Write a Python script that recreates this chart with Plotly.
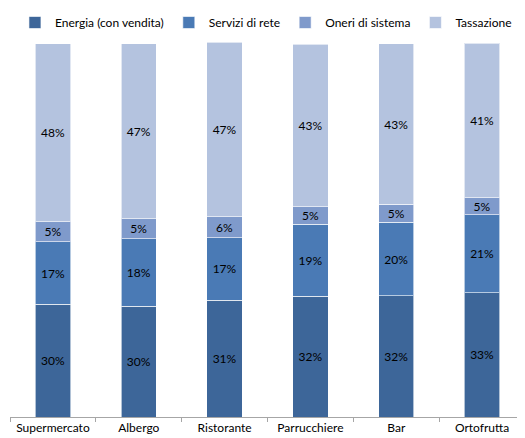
import plotly.graph_objects as go

categories = ["Supermercato", "Albergo", "Ristorante", "Parrucchiere", "Bar", "Ortofrutta"]
energia = [30.1, 29.6, 31.2, 32.3, 32.4, 33.3]
servizi = [16.8, 18.1, 16.8, 19.2, 19.7, 20.8]
oneri = [5.3, 5.3, 5.6, 4.8, 4.8, 4.6]
tassazione = [47.7, 46.9, 46.7, 43.4, 42.9, 41.3]

series = [
    ("Energia (con vendita)", energia, "#3D6699"),
    ("Servizi di rete", servizi, "#4A7AB5"),
    ("Oneri di sistema", oneri, "#7F9ACB"),
    ("Tassazione", tassazione, "#B4C3DF"),
]

FONT = "Lato"

fig = go.Figure()
for name, vals, color in series:
    fig.add_trace(go.Bar(
        x=categories, y=vals, name=name,
        marker=dict(color=color, line=dict(color="rgba(255,255,255,0.6)", width=1)),
        texttemplate="%{y:.0f}%", textposition="inside", insidetextanchor="middle",
        textangle=0, constraintext="none",
        textfont=dict(family=FONT, size=12, color="#000000"),
        hoverinfo="skip",
    ))

fig.update_layout(
    barmode="stack",
    bargap=0.59,
    width=517, height=430,
    margin=dict(l=2, r=0, t=34, b=21, autoexpand=False),
    paper_bgcolor="white", plot_bgcolor="white",
    font=dict(family=FONT, size=12, color="#000000"),
    legend=dict(orientation="h", x=0.497, xanchor="center", y=1.0, yanchor="top",
                yref="container", font=dict(family=FONT, size=12),
                traceorder="normal", itemwidth=30, tracegroupgap=0),
    showlegend=True,
    xaxis=dict(showline=True, linecolor="#A6A6A6", linewidth=1, ticks="outside",
               tickson="boundaries", ticklen=4, tickcolor="#A6A6A6",
               tickfont=dict(family=FONT, size=12, color="#000000")),
    yaxis=dict(range=[0, 100.3], visible=False),
)
fig.write_html("out.html")
